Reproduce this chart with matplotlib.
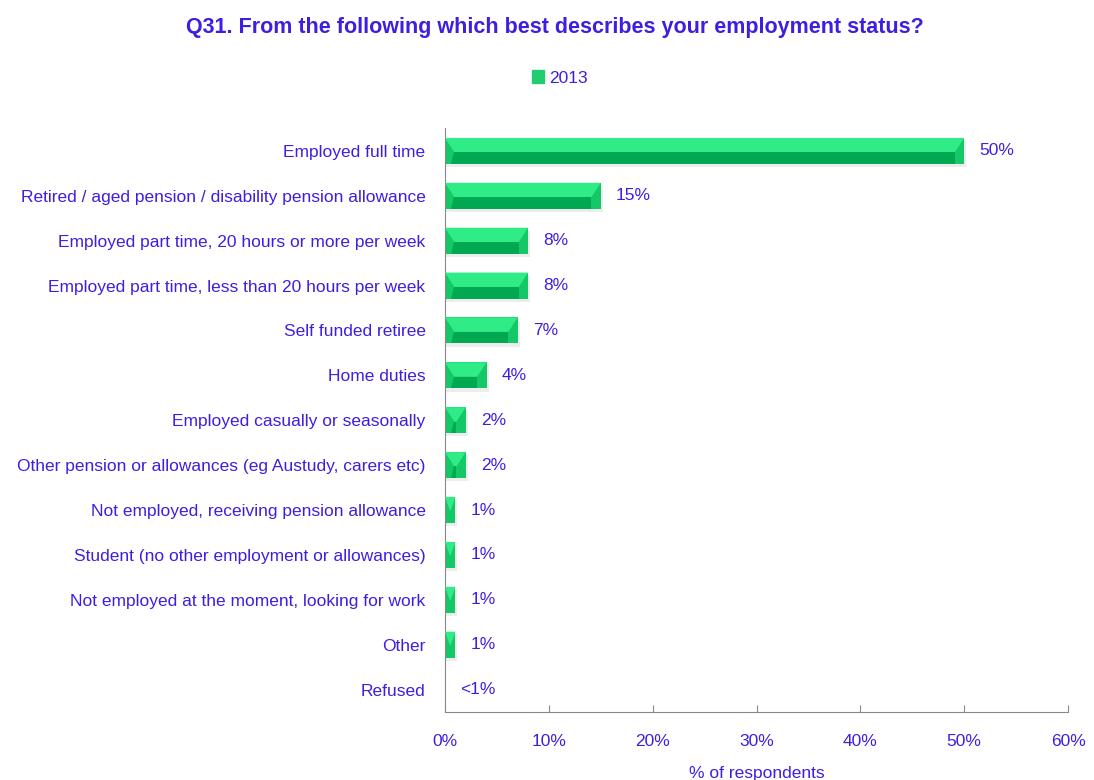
import numpy as np
import matplotlib
matplotlib.use('Agg')
import matplotlib.pyplot as plt
from matplotlib.patches import Polygon, Patch

categories = ['Employed full time',
              'Retired / aged pension / disability pension allowance',
              'Employed part time, 20 hours or more per week',
              'Employed part time, less than 20 hours per week',
              'Self funded retiree',
              'Home duties',
              'Employed casually or seasonally',
              'Other pension or allowances (eg Austudy, carers etc)',
              'Not employed, receiving pension allowance',
              'Student (no other employment or allowances)',
              'Not employed at the moment, looking for work',
              'Other',
              'Refused']
values = [50, 15, 8, 8, 7, 4, 2, 2, 1, 1, 1, 1, 0]
value_labels = ['50%', '15%', '8%', '8%', '7%', '4%', '2%', '2%', '1%', '1%', '1%', '1%', '<1%']
xticks = [0, 10, 20, 30, 40, 50, 60]

txt = '#3D1FE0'
dark = '#00A852'
light = '#30EC86'
mid = '#14C867'
plt.rcParams['font.family'] = ['Liberation Sans', 'DejaVu Sans']

fig = plt.figure(figsize=(10.94, 7.80), dpi=100)
ax = fig.add_axes([445 / 1094, 1 - 712 / 780, 623 / 1094, (712 - 128.5) / 780])

y = np.arange(len(categories))
h = 0.58

# soft shadow
for yi, v in zip(y, values):
    if v > 0:
        ax.barh(yi + 0.07, v + 0.2, height=h, left=0, color='#000000', alpha=0.07, zorder=1)
ax.barh(y, values, height=h, color=mid, zorder=2)

# bevelled look: light top facet, dark bottom face, mid side facets
for yi, v in zip(y, values):
    if v <= 0:
        continue
    d = min(0.9, v / 2)
    top = yi - h / 2
    midy = yi + 0.03
    bot = yi + h / 2
    ax.add_patch(Polygon([(0, top), (v, top), (v - d, midy), (d, midy)],
                         closed=True, color=light, lw=0, zorder=3))
    if v - 2 * d > 0:
        ax.add_patch(Polygon([(d, midy), (v - d, midy), (v - d, bot), (d * 0.6, bot)],
                             closed=True, color=dark, lw=0, zorder=3))

for yi, v, lab in zip(y, values, value_labels):
    ax.annotate(lab, (v, yi), xytext=(11, 0), textcoords='offset points',
                va='center', ha='left', color=txt, fontsize=12.5)

ax.set_ylim(len(categories) - 0.5, -0.5)
ax.set_xlim(0, 60)
ax.set_yticks(y)
ax.set_yticklabels(categories, color=txt, fontsize=12.5)
ax.set_xticks(xticks)
ax.set_xticklabels([f'{t}%' for t in xticks], color=txt, fontsize=12.5)
ax.tick_params(axis='y', length=0, pad=14)
ax.tick_params(axis='x', direction='in', length=5, color='#888888', pad=16)
for s in ['top', 'right']:
    ax.spines[s].set_visible(False)
for s in ['left', 'bottom']:
    ax.spines[s].set_color('#888888')
ax.set_xlabel('% of respondents', color=txt, fontsize=12.5, labelpad=12)

fig.text(0.507, 1 - 27 / 780, 'Q31. From the following which best describes your employment status?',
         ha='center', va='center', color=txt, fontsize=15.5, fontweight='bold')
fig.legend(handles=[Patch(color='#22CC70', label='2013')], loc='center',
           bbox_to_anchor=(560 / 1094, 1 - 78 / 780), frameon=False,
           handlelength=0.7, handleheight=0.7, handletextpad=0.3,
           labelcolor=txt, fontsize=12.5)

fig.savefig('out.png', dpi=100)
